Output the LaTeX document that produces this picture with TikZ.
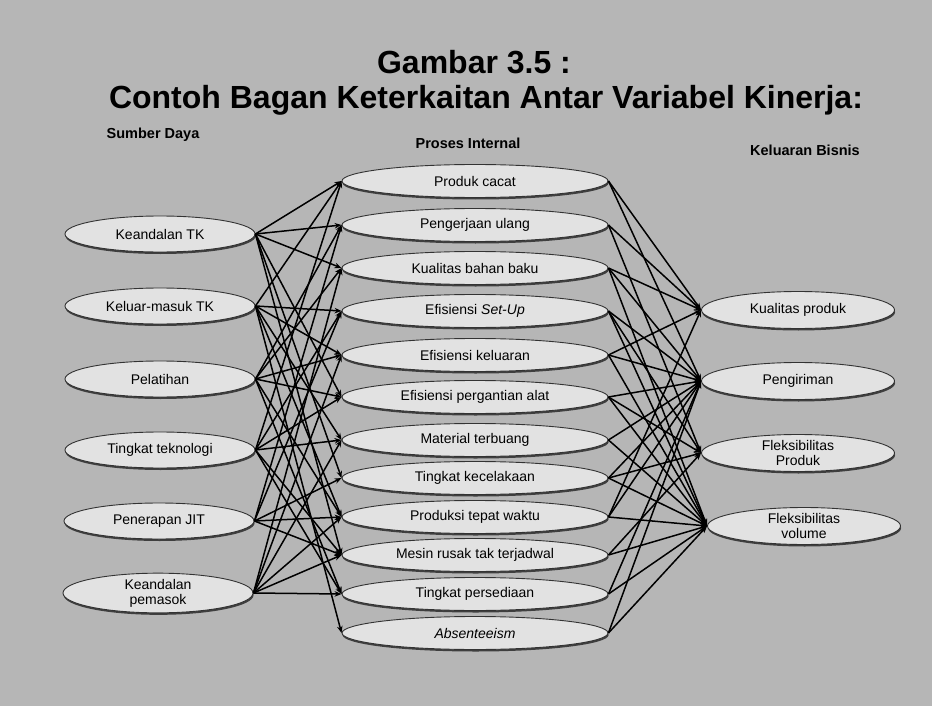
\documentclass[tikz,border=0pt]{standalone}
\usepackage{fontspec}
\setmainfont{Liberation Sans}
\usetikzlibrary{arrows.meta,shadows,shapes.geometric}
\definecolor{paper}{RGB}{182,182,182}
\definecolor{ovalfill}{RGB}{226,226,226}

\begin{document}
\begin{tikzpicture}[x=1pt,y=-1pt,
  oval/.style={ellipse, draw=black!80, line width=0.9pt, fill=ovalfill,
    inner sep=0pt, align=center, font=\fontsize{14}{15}\selectfont,
    drop shadow={shadow xshift=0.6pt, shadow yshift=-2pt, fill=black!80, opacity=0.9}},
  srcbox/.style={oval, minimum width=190pt, minimum height=36pt},
  midbox/.style={oval, minimum width=266pt, minimum height=33pt},
  outbox/.style={oval, minimum width=193pt, minimum height=37pt},
  head/.style={font=\bfseries\fontsize{14.5}{16}\selectfont},
  titletext/.style={font=\bfseries\fontsize{32}{35}\selectfont},
  link/.style={-{Stealth[length=7pt,width=5.5pt]}, line width=1.5pt, black}]

% page
\fill[paper] (0,0) rectangle (932,706);

% titles
\node[titletext] (t1) at (474,62) {Gambar 3.5 :};
\node[titletext] (t2) at (486,100) {Contoh Bagan Keterkaitan Antar Variabel Kinerja:};
\node[head] (h1) at (153,135) {Sumber Daya};
\node[head] (h2) at (468,143) {Proses Internal};
\node[head] (h3) at (805,150) {Keluaran Bisnis};

% resources
\node[srcbox] (s1) at (160,234) {Keandalan TK};
\node[srcbox] (s2) at (160,306) {Keluar-masuk TK};
\node[srcbox] (s3) at (160,379) {Pelatihan};
\node[srcbox] (s4) at (160,450) {Tingkat teknologi};
\node[srcbox] (s5) at (159,521) {Penerapan JIT};
\node[srcbox] (s6) at (158,593) {Keandalan\\pemasok};

% internal processes
\node[midbox] (m1)  at (475,181) {Produk cacat};
\node[midbox] (m2)  at (475,225) {Pengerjaan ulang};
\node[midbox] (m3)  at (475,268) {Kualitas bahan baku};
\node[midbox] (m4)  at (475,311) {Efisiensi \textit{Set-Up}};
\node[midbox] (m5)  at (475,355) {Efisiensi keluaran};
\node[midbox] (m6)  at (475,397) {Efisiensi pergantian alat};
\node[midbox] (m7)  at (475,440) {Material terbuang};
\node[midbox] (m8)  at (475,478) {Tingkat kecelakaan};
\node[midbox] (m9)  at (475,517) {Produksi tepat waktu};
\node[midbox] (m10) at (475,555) {Mesin rusak tak terjadwal};
\node[midbox] (m11) at (475,594) {Tingkat persediaan};
\node[midbox] (m12) at (475,633) {\textit{Absenteeism}};

% business outputs
\node[outbox] (r1) at (798,310) {Kualitas produk};
\node[outbox] (r2) at (798,381) {Pengiriman};
\node[outbox] (r3) at (798,453) {Fleksibilitas\\Produk};
\node[outbox] (r4) at (804,526) {Fleksibilitas\\volume};

% resources -> internal processes
\foreach \s/\ts in {s1/{m1,m2,m3,m6,m8,m10},
                    s2/{m1,m4,m5,m7,m9,m12},
                    s3/{m2,m3,m5,m6,m9,m11},
                    s4/{m1,m4,m6,m7,m10,m11},
                    s5/{m2,m4,m8,m9,m10},
                    s6/{m3,m5,m7,m9,m10,m11}}
  \foreach \t in \ts
    \draw[link] (\s.east) -- (\t.west);

% internal processes -> business outputs
\foreach \s/\ts in {m1/{r1,r2}, m2/{r1,r3}, m3/{r1,r2,r4}, m4/{r2,r3,r4},
                    m5/{r1,r2,r4}, m6/{r2,r3,r4}, m7/{r2,r4}, m8/{r2,r3,r4},
                    m9/{r1,r2,r4}, m10/{r3,r4}, m11/{r2,r4}, m12/{r2,r4}}
  \foreach \t in \ts
    \draw[link] (\s.east) -- (\t.west);
\end{tikzpicture}
\end{document}
